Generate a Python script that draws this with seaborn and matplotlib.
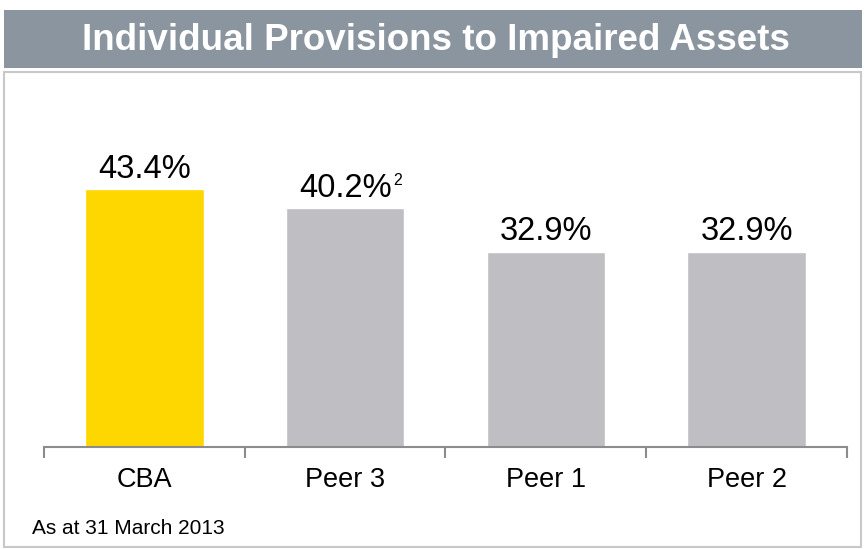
import matplotlib
matplotlib.use("Agg")
import matplotlib.pyplot as plt
import seaborn as sns
import pandas as pd
from matplotlib.patches import Rectangle

# data
banks = ["CBA", "Peer 3", "Peer 1", "Peer 2"]
ratios = [43.4, 40.2, 32.9, 32.9]
footnotes = ["", "2", "", ""]
bar_colours = ["#FFD700", "#BFBFC3", "#BFBFC3", "#BFBFC3"]

title = "Individual Provisions to Impaired Assets"
note = "As at 31 March 2013"

sns.set_style("white")
plt.rcParams["font.family"] = ["Liberation Sans", "DejaVu Sans"]
plt.rcParams["text.color"] = "black"

W, H = 866, 549
fig = plt.figure(figsize=(W / 100, H / 100), dpi=100)

def fx(px):
    return px / W

def fy(py):
    return 1 - py / H

# grey banner and the light frame around the chart
fig.patches.append(Rectangle((fx(4), fy(68)), fx(858), 58 / H, transform=fig.transFigure,
                             facecolor="#8A959F", edgecolor="none", zorder=0))
fig.patches.append(Rectangle((fx(4), fy(547)), fx(857), 475 / H, transform=fig.transFigure,
                             facecolor="none", edgecolor="#C8C8C8", lw=1.5, zorder=0))
fig.text(fx(436), fy(40), title, color="white", fontsize=26.5, fontweight="bold",
         ha="center", va="center")

ax = fig.add_axes([fx(44), fy(447), fx(803), 297 / H])
ax.patch.set_alpha(0)

df = pd.DataFrame({"bank": banks, "ratio": ratios})
sns.barplot(data=df, x="bank", y="ratio", hue="bank", order=banks, hue_order=banks,
            palette=bar_colours, width=0.59, saturation=1, legend=False, ax=ax)

ax.set_xlim(-0.5, len(banks) - 0.5)
ax.set_ylim(0, 50)
for s in ["top", "right", "left"]:
    ax.spines[s].set_visible(False)
ax.spines["bottom"].set_color("#8C8C8C")
ax.spines["bottom"].set_linewidth(1.5)
ax.set_yticks([])
ax.set_xlabel("")
ax.set_ylabel("")

# ticks sit between the categories
ax.set_xticks([i - 0.5 for i in range(len(banks) + 1)])
ax.set_xticklabels([])
ax.tick_params(axis="x", direction="out", length=8, width=1.5, color="#8C8C8C", bottom=True)
for i, b in enumerate(banks):
    ax.annotate(b, xy=(i, 0), xytext=(0, -24), textcoords="offset points",
                ha="center", va="center", fontsize=19.5, color="black")

for i, (v, fn) in enumerate(zip(ratios, footnotes)):
    t = ax.annotate(f"{v:.1f}%", xy=(i, v), xytext=(0, 3), textcoords="offset points",
                    ha="center", va="bottom", fontsize=23.5, color="black")
    if fn:
        ax.annotate(fn, xy=(1, 1), xycoords=t, xytext=(1, 0), textcoords="offset points",
                    ha="left", va="top", fontsize=11.5, color="black")

fig.text(fx(32), fy(528), note, fontsize=15, ha="left", va="center", color="black")

fig.savefig("out.png", dpi=100)
